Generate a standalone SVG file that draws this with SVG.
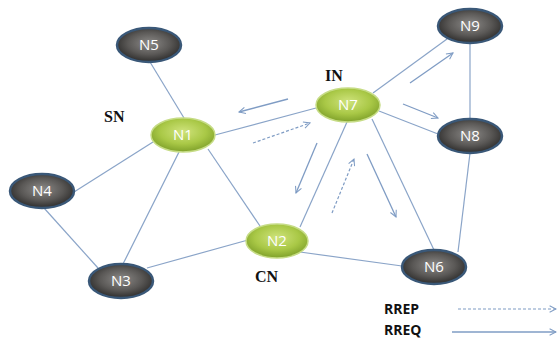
<svg xmlns="http://www.w3.org/2000/svg" width="558" height="340" viewBox="0 0 558 340">
<defs>
<radialGradient id="gDark" cx="50%" cy="45%" r="55%">
<stop offset="0" stop-color="#8c8a88"/>
<stop offset="0.6" stop-color="#5a5856"/>
<stop offset="1" stop-color="#2e2d2c"/>
</radialGradient>
<radialGradient id="gGreen" cx="50%" cy="40%" r="60%">
<stop offset="0" stop-color="#cfe37c"/>
<stop offset="0.6" stop-color="#a9c846"/>
<stop offset="1" stop-color="#7fa12a"/>
</radialGradient>
<marker id="ah" viewBox="0 0 10 10" refX="9" refY="5" markerWidth="8" markerHeight="8" orient="auto" markerUnits="userSpaceOnUse">
<path d="M1,1 L9,5 L1,9" fill="none" stroke="#7f9cc4" stroke-width="1.3"/>
</marker>
</defs>
<style>
.edge{stroke:#8aa4c8;stroke-width:1.2;fill:none}
.req{stroke:#7f9cc4;stroke-width:1.3;fill:none;marker-end:url(#ah)}
.rep{stroke:#7f9cc4;stroke-width:1.2;fill:none;stroke-dasharray:3,2;marker-end:url(#ah)}
.dark{fill:url(#gDark);stroke:#3a5878;stroke-width:2.5}
.green{fill:url(#gGreen);stroke:#c6dc86;stroke-width:1.5}
.nl{font-family:"Open Sans","Liberation Sans",sans-serif;font-size:15px;fill:#ffffff;text-anchor:middle}
.role{font-family:"Liberation Serif",serif;font-size:16px;font-weight:bold;fill:#111111}
.leg{font-family:"Open Sans","Liberation Sans",sans-serif;font-size:14px;font-weight:bold;fill:#111111}
</style>
<rect width="558" height="340" fill="#ffffff"/>
<g id="connectors">
<line class="edge" x1="150" y1="62" x2="184" y2="118"/>
<line class="edge" x1="153" y1="142" x2="74" y2="192"/>
<line class="edge" x1="179" y1="152" x2="123" y2="264"/>
<line class="edge" x1="208" y1="149" x2="260" y2="226"/>
<line class="edge" x1="215" y1="135" x2="316" y2="108"/>
<line class="edge" x1="44" y1="208" x2="98" y2="268"/>
<line class="edge" x1="147" y1="268" x2="248" y2="240"/>
<line class="edge" x1="300" y1="227" x2="347" y2="122"/>
<line class="edge" x1="300" y1="252" x2="402" y2="266"/>
<line class="edge" x1="373" y1="93" x2="447" y2="39"/>
<line class="edge" x1="379" y1="111" x2="438" y2="134"/>
<line class="edge" x1="372" y1="119" x2="434" y2="250"/>
<line class="edge" x1="470" y1="43" x2="470" y2="119"/>
<line class="edge" x1="470" y1="153" x2="458" y2="252"/>
<line class="req" x1="288" y1="99" x2="239" y2="112"/>
<line class="rep" x1="253" y1="143" x2="310" y2="123"/>
<line class="req" x1="317" y1="143" x2="296" y2="193"/>
<line class="rep" x1="332" y1="213" x2="354" y2="159"/>
<line class="req" x1="367" y1="154" x2="396" y2="217"/>
<line class="req" x1="410" y1="83" x2="453" y2="53"/>
<line class="req" x1="403" y1="104" x2="438" y2="118"/>
<line class="rep" x1="458" y1="309" x2="556" y2="309"/>
<line class="req" x1="452" y1="332" x2="556" y2="332"/>
</g>
<g id="N5"><ellipse class="dark" cx="149" cy="45" rx="32" ry="17"/><text class="nl" x="149" y="50">N5</text></g>
<g id="N1"><ellipse class="green" cx="183" cy="135" rx="32" ry="17"/><text class="nl" x="183" y="140">N1</text></g>
<g id="N7"><ellipse class="green" cx="348" cy="105" rx="32" ry="17"/><text class="nl" x="348" y="110">N7</text></g>
<g id="N9"><ellipse class="dark" cx="470" cy="26" rx="32" ry="17"/><text class="nl" x="470" y="31">N9</text></g>
<g id="N8"><ellipse class="dark" cx="470" cy="136" rx="32" ry="17"/><text class="nl" x="470" y="141">N8</text></g>
<g id="N4"><ellipse class="dark" cx="42" cy="191" rx="32" ry="17"/><text class="nl" x="42" y="196">N4</text></g>
<g id="N3"><ellipse class="dark" cx="121" cy="281" rx="32" ry="17"/><text class="nl" x="121" y="286">N3</text></g>
<g id="N2"><ellipse class="green" cx="277" cy="241" rx="31" ry="17"/><text class="nl" x="277" y="246">N2</text></g>
<g id="N6"><ellipse class="dark" cx="434" cy="267" rx="32" ry="17"/><text class="nl" x="434" y="272">N6</text></g>
<text class="role" x="104" y="122">SN</text>
<text class="role" x="325" y="81">IN</text>
<text class="role" x="255" y="282">CN</text>
<text class="leg" x="384" y="314">RREP</text>
<text class="leg" x="384" y="335">RREQ</text>
</svg>
